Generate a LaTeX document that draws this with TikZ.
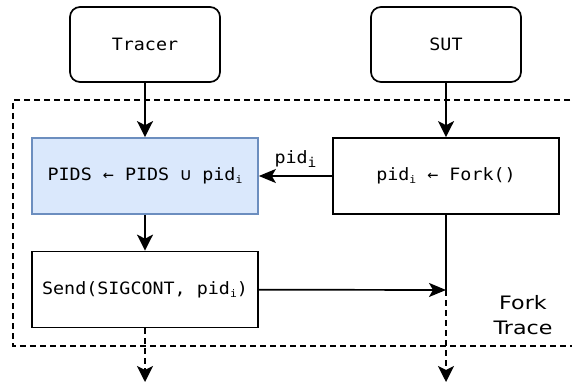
\documentclass[tikz,border=0pt]{standalone}
\usepackage{fontspec}
\usetikzlibrary{arrows.meta}
\setmainfont{DejaVu Sans}
\newfontfamily\codefont[FakeStretch=1.08]{DejaVu Sans Mono}
\newfontfamily\labelfont[FakeStretch=1.2]{DejaVu Sans}
\definecolor{boxblue}{HTML}{DAE8FC}
\definecolor{edgeblue}{HTML}{6C8EBF}
\newcommand{\subi}{\raisebox{-0.35ex}{\fontsize{10.5}{10.5}\selectfont i}}
\newcommand{\biglowi}{\raisebox{-0.45ex}{\fontsize{13.5}{13.5}\selectfont i}}
\tikzset{
  every node/.style={font=\codefont\fontsize{17}{20}\selectfont},
  actor/.style={draw, line width=1.7pt, rounded corners=10pt, minimum width=150pt, minimum height=75pt, inner sep=0pt},
  stepbox/.style={draw, line width=1.7pt, minimum width=226pt, minimum height=76pt, inner sep=0pt},
  setbox/.style={stepbox, fill=boxblue, draw=edgeblue},
  flow/.style={line width=1.7pt, -{Stealth[length=16pt,width=16pt,inset=4pt]}},
  hflow/.style={line width=1.7pt, -{Stealth[length=17pt,width=14pt,inset=4pt]}},
  dflow/.style={flow, dash pattern=on 6pt off 4pt},
  region/.style={line width=1.5pt, dash pattern=on 6pt off 4pt},
}
\begin{document}
\begin{tikzpicture}[x=1pt, y=-1pt]
\useasboundingbox (0,0) rectangle (572,382);
% dashed fork-trace region, open to the right
\draw[region] (600,100) -- (13,100) -- (13,346) -- (600,346);
\node[align=center, font=\labelfont\fontsize{18.5}{25.5}\selectfont] (lbl) at (523,315) {Fork\\Trace};

% actors
\node[actor] (tracer) at (145,44.5) {Tracer};
\node[actor] (sut) at (446,44.5) {SUT};

% steps
\node[setbox] (pids) at (145,176) {PIDS ← PIDS ∪ pid\subi};
\node[stepbox] (fork) at (446,176) {pid\subi{} ← Fork()};
\node[stepbox] (send) at (145,289.5) {Send(SIGCONT, pid\subi)};

\coordinate (join) at (446,290);
\coordinate (outl) at (145,382);
\coordinate (outr) at (446,382);

% connectors
\draw[flow] (tracer) -- (pids);
\draw[flow] (sut) -- (fork);
\draw[hflow] (fork) -- node[above, yshift=4pt] (pidlbl) {pid\biglowi} (pids);
\draw[flow] (pids) -- (send);
\draw[line width=1.7pt] (fork) -- (join);
\draw[hflow] (send) -- (join);
\draw[dflow] (send) -- (outl);
\draw[dflow] (join) -- (outr);
\end{tikzpicture}
\end{document}
